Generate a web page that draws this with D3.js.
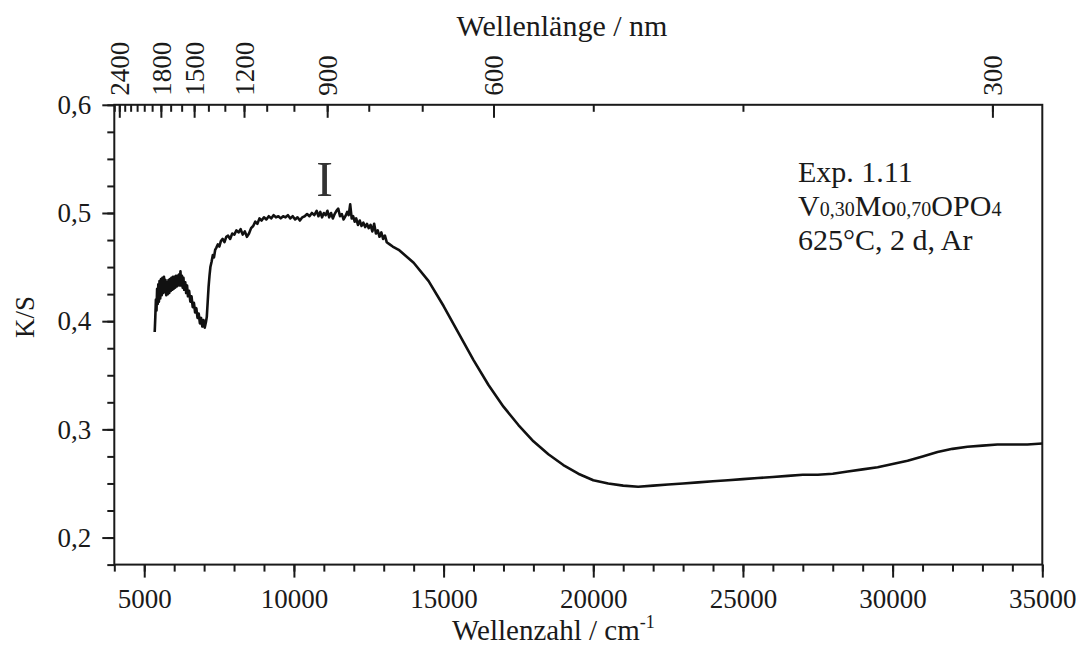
<!DOCTYPE html>
<meta charset="utf-8">
<style>
body { margin: 0; background: #fff; }
text { font-family: "Liberation Serif", "Times New Roman", serif; fill: #1a1a1a; }
.axis line { stroke: #1a1a1a; stroke-width: 2; }
.axis text { font-size: 27px; }
</style>
<svg width="1076" height="645"></svg>
<script src="https://d3js.org/d3.v7.min.js"></script>
<script>

// tick labels
var xMajor = [5000, 10000, 15000, 20000, 25000, 30000, 35000];
var yMajor = [0.2, 0.3, 0.4, 0.5, 0.6];
var wlMajor = [2400, 1800, 1500, 1200, 900, 600, 300];

// K/S spectrum: [wavenumber / cm-1, K/S]
var spectrum = [
  [5350,0.390],[5370,0.404],[5390,0.420],[5410,0.410],[5430,0.430],[5450,0.416],
  [5470,0.434],[5490,0.418],[5510,0.437],[5535,0.421],[5560,0.439],[5585,0.424],
  [5610,0.440],[5635,0.426],[5660,0.441],[5685,0.427],[5710,0.438],[5735,0.424],
  [5760,0.436],[5785,0.425],[5810,0.438],[5835,0.426],[5860,0.439],[5885,0.428],
  [5910,0.440],[5935,0.429],[5960,0.441],[5985,0.430],[6010,0.441],[6035,0.431],
  [6060,0.442],[6085,0.432],[6110,0.442],[6135,0.433],[6160,0.443],[6185,0.433],
  [6210,0.446],[6235,0.433],[6260,0.442],[6285,0.431],[6310,0.440],[6335,0.429],
  [6370,0.436],[6400,0.426],[6430,0.433],[6460,0.423],[6500,0.428],[6540,0.418],
  [6580,0.423],[6620,0.413],[6660,0.417],[6700,0.408],[6740,0.412],[6780,0.403],
  [6820,0.407],[6860,0.398],[6900,0.403],[6940,0.395],[6980,0.401],[7020,0.394],
  [7060,0.399],[7090,0.404],[7120,0.418],[7150,0.432],[7180,0.442],[7210,0.450],
  [7250,0.455],[7290,0.461],[7330,0.459],[7370,0.466],[7410,0.468],[7460,0.471],
  [7510,0.469],[7560,0.474],[7620,0.476],[7680,0.473],[7740,0.478],[7800,0.479],
  [7870,0.476],[7940,0.481],[8010,0.480],[8080,0.484],[8150,0.482],[8220,0.485],
  [8290,0.480],[8360,0.483],[8430,0.478],[8500,0.481],[8570,0.486],[8640,0.488],
  [8710,0.492],[8780,0.490],[8850,0.495],[8920,0.493],[9000,0.496],[9080,0.494],
  [9160,0.497],[9240,0.495],[9320,0.498],[9400,0.496],[9480,0.497],[9560,0.495],
  [9640,0.497],[9720,0.496],[9800,0.498],[9880,0.495],[9960,0.497],[10040,0.494],
  [10120,0.496],[10200,0.493],[10280,0.496],[10360,0.497],[10440,0.499],[10520,0.497],
  [10600,0.500],[10680,0.498],[10760,0.502],[10820,0.497],[10880,0.501],[10940,0.496],
  [11000,0.500],[11060,0.498],[11120,0.502],[11180,0.496],[11240,0.500],[11300,0.495],
  [11360,0.499],[11420,0.502],[11480,0.504],[11540,0.497],[11600,0.499],[11660,0.494],
  [11720,0.497],[11780,0.501],[11830,0.498],[11880,0.508],[11930,0.495],[11980,0.497],
  [12030,0.492],[12080,0.495],[12140,0.489],[12200,0.493],[12260,0.488],[12320,0.491],
  [12380,0.487],[12440,0.490],[12500,0.486],[12560,0.489],[12620,0.483],[12680,0.490],
  [12740,0.481],[12800,0.484],[12860,0.478],[12920,0.482],[12980,0.476],[13040,0.479],
  [13100,0.473],[13200,0.471],[13300,0.469],[13500,0.466],[14000,0.454],[14500,0.437],
  [15000,0.414],[15500,0.389],[16000,0.364],[16500,0.341],[17000,0.321],[17500,0.304],
  [18000,0.289],[18500,0.277],[19000,0.267],[19500,0.259],[20000,0.253],[20500,0.250],
  [21000,0.248],[21500,0.247],[22000,0.248],[22500,0.249],[23000,0.250],[23500,0.251],
  [24000,0.252],[24500,0.253],[25000,0.254],[25500,0.255],[26000,0.256],[26500,0.257],
  [27000,0.258],[27500,0.258],[28000,0.259],[28500,0.261],[29000,0.263],[29500,0.265],
  [30000,0.268],[30500,0.271],[31000,0.275],[31500,0.279],[32000,0.282],[32500,0.284],
  [33000,0.285],[33500,0.286],[34000,0.286],[34500,0.286],[35000,0.287]
];

var svg = d3.select("svg"),
    x0 = 114.3, x1 = 1042.3, yTop = 104.8, yBot = 564.6;

var x = d3.scaleLinear().domain([4000, 35000]).range([x0, x1]),
    y = d3.scaleLinear().domain([0.175, 0.6]).range([yBot, yTop]);

var comma = function(d) { return d.toFixed(1).replace(".", ","); };

// bottom axis: minor then major
svg.append("g").attr("class", "axis")
    .attr("transform", "translate(0," + yBot + ")")
    .call(d3.axisBottom(x).tickValues(d3.range(4000, 35001, 1000)).tickSize(7).tickFormat(""));
svg.append("g").attr("class", "axis")
    .attr("transform", "translate(0," + yBot + ")")
    .call(d3.axisBottom(x).tickValues(xMajor).tickSize(13).tickPadding(11).tickFormat(d3.format("d")));

// left axis
svg.append("g").attr("class", "axis")
    .attr("transform", "translate(" + x0 + ",0)")
    .call(d3.axisLeft(y).tickValues(d3.range(0.175, 0.6001, 0.025)).tickSize(7).tickFormat(""));
svg.append("g").attr("class", "axis")
    .attr("transform", "translate(" + x0 + ",0)")
    .call(d3.axisLeft(y).tickValues(yMajor).tickSize(12).tickPadding(11).tickFormat(comma));

// top axis in wavelength, ticks pointing inward
svg.append("g").attr("class", "axis")
    .attr("transform", "translate(0," + yTop + ")")
    .call(d3.axisTop(x).tickValues(d3.range(300, 2501, 100).map(function(l) { return 1e7 / l; }))
      .tickSize(-7).tickFormat(""));
svg.append("g").attr("class", "axis")
    .attr("transform", "translate(0," + yTop + ")")
    .call(d3.axisTop(x).tickValues(wlMajor.map(function(l) { return 1e7 / l; }))
      .tickSize(-13).tickFormat(function(d) { return Math.round(1e7 / d); }))
  .selectAll("text")
    .attr("transform", "rotate(-90)")
    .attr("x", 9).attr("y", 0).attr("dy", "0.35em")
    .attr("text-anchor", "start");

svg.selectAll(".domain").remove();

// frame
svg.append("rect")
    .attr("x", x0).attr("y", yTop)
    .attr("width", x1 - x0).attr("height", yBot - yTop)
    .attr("fill", "none").attr("stroke", "#1a1a1a").attr("stroke-width", 2);

// curve
svg.append("path")
    .datum(spectrum)
    .attr("fill", "none")
    .attr("stroke", "#111")
    .attr("stroke-width", 2.6)
    .attr("stroke-linejoin", "round")
    .attr("d", d3.line().x(function(d) { return x(d[0]); }).y(function(d) { return y(d[1]); }));

// axis titles
svg.append("text").attr("x", 562).attr("y", 36)
    .attr("text-anchor", "middle").style("font-size", "30px")
    .text("Wellenlänge / nm");

var xt = svg.append("text").attr("x", 452).attr("y", 640).style("font-size", "29px");
xt.append("tspan").text("Wellenzahl / cm");
xt.append("tspan").attr("dy", -12).style("font-size", "18px").text("-1");

svg.append("text")
    .attr("transform", "translate(25,317) rotate(-90)")
    .attr("text-anchor", "middle").attr("dy", "0.35em")
    .style("font-size", "27px")
    .text("K/S");

// band label
svg.append("text").attr("x", 324.5).attr("y", 196)
    .attr("text-anchor", "middle").style("font-size", "50px").style("fill", "#333")
    .text("I");

// sample annotation
var note = svg.append("g").style("font-size", "30px");
note.append("text").attr("x", 798).attr("y", 182).text("Exp. 1.11");
var f = note.append("text").attr("x", 798).attr("y", 216);
[["V", 30], ["0,30", 20], ["Mo", 30], ["0,70", 20], ["OPO", 30], ["4", 20]].forEach(function(p) {
  f.append("tspan").style("font-size", p[1] + "px").text(p[0]);
});
note.append("text").attr("x", 798).attr("y", 250).text("625°C, 2 d, Ar");

</script>
